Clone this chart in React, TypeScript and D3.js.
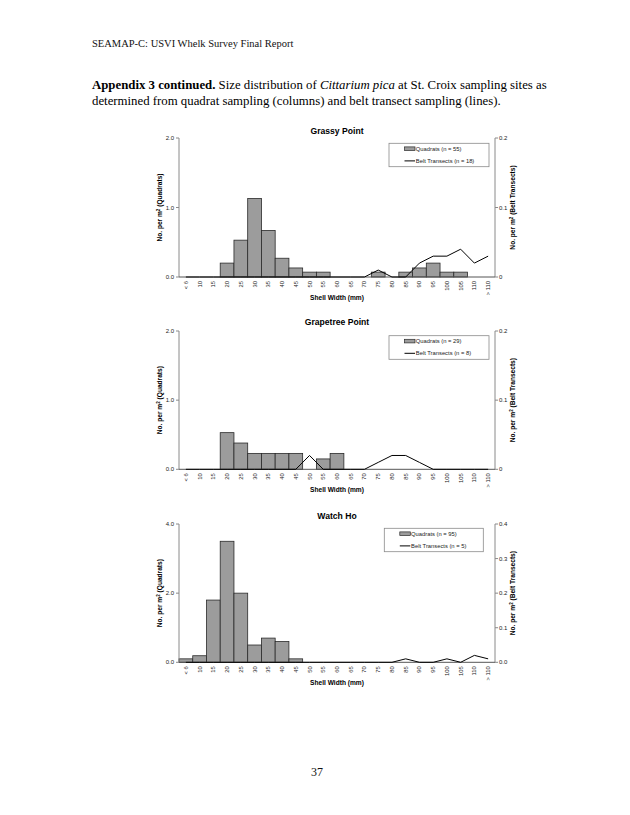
import React from 'react';
import * as d3 from 'd3';

const categories = ['< 6', '10', '15', '20', '25', '30', '35', '40', '45', '50', '55', '60', '65', '70', '75', '80', '85', '90', '95', '100', '105', '110', '> 110'];

const grassyQuadrats = [0, 0, 0, 0.2, 0.53, 1.13, 0.67, 0.27, 0.13, 0.07, 0.07, 0, 0, 0, 0.07, 0, 0.07, 0.13, 0.2, 0.07, 0.07, 0, 0];
const grassyBelt = [0, 0, 0, 0, 0, 0, 0, 0, 0, 0, 0, 0, 0, 0, 0.01, 0, 0, 0.02, 0.03, 0.03, 0.04, 0.02, 0.03];

const grapetreeQuadrats = [0, 0, 0, 0.53, 0.38, 0.23, 0.23, 0.23, 0.23, 0, 0.15, 0.23, 0, 0, 0, 0, 0, 0, 0, 0, 0, 0, 0];
const grapetreeBelt = [0, 0, 0, 0, 0, 0, 0, 0, 0, 0.02, 0, 0, 0, 0, 0.01, 0.02, 0.02, 0.01, 0, 0, 0, 0, 0];

const watchHoQuadrats = [0.1, 0.19, 1.8, 3.5, 2.0, 0.5, 0.7, 0.6, 0.1, 0, 0, 0, 0, 0, 0, 0, 0, 0, 0, 0, 0, 0, 0];
const watchHoBelt = [0, 0, 0, 0, 0, 0, 0, 0, 0, 0, 0, 0, 0, 0, 0, 0, 0.01, 0, 0, 0.01, 0, 0.02, 0.01];

const siteNames = ['Grassy Point', 'Grapetree Point', 'Watch Ho'];
const quadratN = [55, 29, 95];
const beltN = [18, 8, 5];
const leftMax = [2, 2, 4];
const rightMax = [0.2, 0.2, 0.4];
const leftTicks = [[0, 1, 2], [0, 1, 2], [0, 2, 4]];
const rightTicks = [[0, 0.1, 0.2], [0, 0.1, 0.2], [0, 0.1, 0.2, 0.3, 0.4]];
const rightTickLabels = [['0', '0.1', '0.2'], ['0', '0.1', '0.2'], ['0.0', '0.1', '0.2', '0.3', '0.4']];

const quadratSeries = [grassyQuadrats, grapetreeQuadrats, watchHoQuadrats];
const beltSeries = [grassyBelt, grapetreeBelt, watchHoBelt];

// layout (positions only)
const layouts = [
  { top: 138, bottom: 277, titleY: 134, legend: { x: 389, y: 143.3, w: 100, h: 23.4 } },
  { top: 331, bottom: 469.3, titleY: 325, legend: { x: 389, y: 335.7, w: 100, h: 23.6 } },
  { top: 524, bottom: 662.3, titleY: 518.5, legend: { x: 384.3, y: 528.3, w: 99, h: 23.4 } },
];

const PLOT_LEFT = 179;
const PLOT_RIGHT = 495;
const SANS = '"Liberation Sans", Arial, sans-serif';
const SERIF = '"Liberation Serif", "Times New Roman", serif';
const AXIS = '#8a8a8a';

function Chart({ idx }: { idx: number }) {
  const L = layouts[idx];
  const x = d3.scaleBand<string>().domain(categories).range([PLOT_LEFT, PLOT_RIGHT]).padding(0);
  const y = d3.scaleLinear().domain([0, leftMax[idx]]).range([L.bottom, L.top]);
  const y2 = d3.scaleLinear().domain([0, rightMax[idx]]).range([L.bottom, L.top]);
  const q = quadratSeries[idx];
  const b = beltSeries[idx];
  const line = d3
    .line<number>()
    .x((_, i) => (x(categories[i]) as number) + x.bandwidth() / 2)
    .y((d) => y2(d));
  const cx = (PLOT_LEFT + PLOT_RIGHT) / 2;
  const midY = (L.top + L.bottom) / 2;
  const lg = L.legend;
  return (
    <g>
      <text x={cx} y={L.titleY} textAnchor="middle" fontFamily={SANS} fontWeight="bold" fontSize={8.6}>
        {siteNames[idx]}
      </text>
      {q.map((v, i) =>
        v > 0 ? (
          <rect
            key={i}
            x={x(categories[i])}
            y={y(v)}
            width={x.bandwidth()}
            height={L.bottom - y(v)}
            fill="#9c9c9c"
            stroke="#2a2a2a"
            strokeWidth={0.8}
          />
        ) : null
      )}
      <line x1={PLOT_LEFT} x2={PLOT_LEFT} y1={L.top} y2={L.bottom} stroke={AXIS} strokeWidth={1} />
      <line x1={PLOT_RIGHT} x2={PLOT_RIGHT} y1={L.top} y2={L.bottom} stroke={AXIS} strokeWidth={1} />
      <line x1={PLOT_LEFT} x2={PLOT_RIGHT} y1={L.bottom} y2={L.bottom} stroke="#555" strokeWidth={1} />
      <path d={line(b) || ''} fill="none" stroke="#000" strokeWidth={1} />
      {leftTicks[idx].map((t) => (
        <g key={'l' + t}>
          <line x1={PLOT_LEFT - 3} x2={PLOT_LEFT} y1={y(t)} y2={y(t)} stroke={AXIS} />
          <text x={PLOT_LEFT - 5} y={y(t) + 2} textAnchor="end" fontFamily={SANS} fontSize={6} fill="#222">
            {t.toFixed(1)}
          </text>
        </g>
      ))}
      {rightTicks[idx].map((t, i) => (
        <g key={'r' + t}>
          <line x1={PLOT_RIGHT} x2={PLOT_RIGHT + 3} y1={y2(t)} y2={y2(t)} stroke={AXIS} />
          <text x={PLOT_RIGHT + 4} y={y2(t) + 2} textAnchor="start" fontFamily={SANS} fontSize={6} fill="#222">
            {rightTickLabels[idx][i]}
          </text>
        </g>
      ))}
      {categories.map((c) => {
        const px = (x(c) as number) + x.bandwidth() / 2;
        const py = L.bottom + 4;
        return (
          <text
            key={c}
            transform={`translate(${px + 2},${py}) rotate(-90)`}
            textAnchor="end"
            fontFamily={SANS}
            fontSize={5.8}
            fill="#222"
          >
            {c}
          </text>
        );
      })}
      <text x={cx} y={L.bottom + 23} textAnchor="middle" fontFamily={SANS} fontWeight="bold" fontSize={6.6}>
        Shell Width (mm)
      </text>
      <text
        transform={`translate(162,${midY}) rotate(-90)`}
        textAnchor="middle"
        fontFamily={SANS}
        fontWeight="bold"
        fontSize={6.6}
      >
        No. per m
        <tspan fontSize={4.5} dy={-2.5}>2</tspan>
        <tspan dy={2.5}> (Quadrats)</tspan>
      </text>
      <text
        transform={`translate(515,${midY}) rotate(-90)`}
        textAnchor="middle"
        fontFamily={SANS}
        fontWeight="bold"
        fontSize={6.6}
      >
        No. per m
        <tspan fontSize={4.5} dy={-2.5}>2</tspan>
        <tspan dy={2.5}> (Belt Transects)</tspan>
      </text>
      <rect x={lg.x} y={lg.y} width={lg.w} height={lg.h} fill="#fff" stroke={AXIS} strokeWidth={0.8} />
      <rect x={lg.x + 15.5} y={lg.y + 3.6} width={10.5} height={3.6} fill="#9c9c9c" stroke="#2a2a2a" strokeWidth={0.7} />
      <text x={lg.x + 26.8} y={lg.y + 7.6} fontFamily={SANS} fontSize={5.8} fill="#222">
        Quadrats (n = {quadratN[idx]})
      </text>
      <line x1={lg.x + 15.5} x2={lg.x + 26} y1={lg.y + 17.6} y2={lg.y + 17.6} stroke="#000" strokeWidth={1} />
      <text x={lg.x + 26.8} y={lg.y + 19.6} fontFamily={SANS} fontSize={5.8} fill="#222">
        Belt Transects (n = {beltN[idx]})
      </text>
    </g>
  );
}

export default function App() {
  return (
    <svg
      width={630}
      height={815}
      viewBox="0 0 630 815"
      style={{ position: 'absolute', left: 0, top: 0, background: '#fff' }}
    >
      <rect x={0} y={0} width={630} height={815} fill="#fff" />
      <text x={92} y={46.5} fontFamily={SERIF} fontSize={10.5} fill="#111">
        SEAMAP-C: USVI Whelk Survey Final Report
      </text>
      <text x={92} y={88.5} fontFamily={SERIF} fontSize={12.8} fill="#000">
        <tspan fontWeight="bold">Appendix 3 continued.</tspan>
        <tspan>{'  Size distribution of '}</tspan>
        <tspan fontStyle="italic">Cittarium pica</tspan>
        <tspan> at St. Croix sampling sites as</tspan>
      </text>
      <text x={92} y={104.5} fontFamily={SERIF} fontSize={12.8} fill="#000">
        determined from quadrat sampling (columns) and belt transect sampling (lines).
      </text>
      {[0, 1, 2].map((i) => (
        <Chart key={i} idx={i} />
      ))}
      <text x={311} y={776} fontFamily={SERIF} fontSize={12} fill="#111">
        37
      </text>
    </svg>
  );
}
